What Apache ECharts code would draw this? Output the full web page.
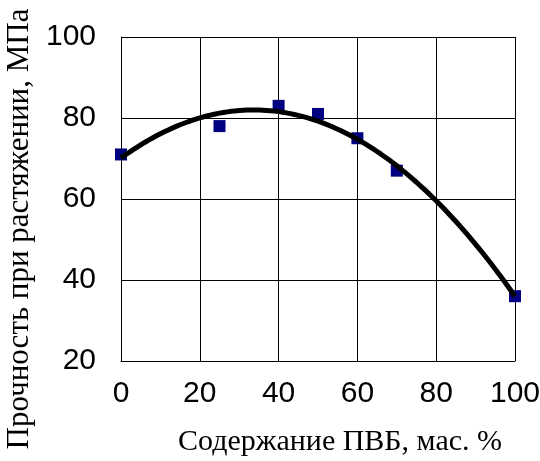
<!DOCTYPE html>
<html>
<head>
<meta charset="utf-8">
<script src="https://cdn.jsdelivr.net/npm/echarts@6/dist/echarts.min.js"></script>
<style>
  html, body { margin: 0; padding: 0; background: #fff; }
  #chart { width: 540px; height: 461px; }
</style>
</head>
<body>
<div id="chart"></div>
<script>
// PVB content, wt.% and measured tensile strength, MPa
const pvbContent = [0, 25, 40, 50, 60, 70, 100];
const tensileStrength = [71, 78, 83, 81, 75, 67, 36];
const xTicks = [0, 20, 40, 60, 80, 100];
const yTicks = [20, 40, 60, 80, 100];

// Second-order polynomial trend line fitted to the measurements (least squares)
function quadFit(xs, ys) {
  const S = [0, 0, 0, 0, 0];
  const T = [0, 0, 0];
  for (let i = 0; i < xs.length; i++) {
    let p = 1;
    for (let k = 0; k < 5; k++) { S[k] += p; if (k < 3) T[k] += p * ys[i]; p *= xs[i]; }
  }
  const A = [[S[0], S[1], S[2], T[0]], [S[1], S[2], S[3], T[1]], [S[2], S[3], S[4], T[2]]];
  for (let c = 0; c < 3; c++) {
    for (let r = c + 1; r < 3; r++) {
      const f = A[r][c] / A[c][c];
      for (let k = c; k < 4; k++) A[r][k] -= f * A[c][k];
    }
  }
  const coef = [0, 0, 0];
  for (let r = 2; r >= 0; r--) {
    let s = A[r][3];
    for (let k = r + 1; k < 3; k++) s -= A[r][k] * coef[k];
    coef[r] = s / A[r][r];
  }
  return coef;
}
const fit = quadFit(pvbContent, tensileStrength);
const trend = [];
for (let x = xTicks[0]; x <= xTicks[xTicks.length - 1]; x += 1) {
  trend.push([x, fit[0] + fit[1] * x + fit[2] * x * x]);
}

const chart = echarts.init(document.getElementById('chart'), null, { renderer: 'canvas' });
chart.setOption({
  animation: false,
  backgroundColor: '#ffffff',
  grid: { left: 121, right: 25, top: 37, bottom: 100, containLabel: false, outerBoundsMode: 'none' },
  xAxis: {
    type: 'value',
    min: xTicks[0], max: xTicks[xTicks.length - 1], interval: 20,
    name: 'Содержание ПВБ, мас. %',
    nameLocation: 'middle',
    nameGap: 66,
    nameTextStyle: { fontFamily: 'Liberation Serif', fontSize: 30, color: '#000', padding: [0, 0, 0, 44] },
    axisLine: { show: true, onZero: false, lineStyle: { color: '#000', width: 1 } },
    axisTick: { show: false },
    splitLine: { show: true, lineStyle: { color: '#000', width: 1 } },
    axisLabel: { fontFamily: 'Liberation Sans', fontSize: 30, color: '#000', margin: 18 }
  },
  yAxis: {
    type: 'value',
    min: yTicks[0], max: yTicks[yTicks.length - 1], interval: 20,
    name: 'Прочность при растяжении, МПа',
    nameLocation: 'middle',
    nameGap: 76,
    nameRotate: 90,
    nameTextStyle: { fontFamily: 'Liberation Serif', fontSize: 31, color: '#000', padding: [0, 60, 0, 0] },
    axisLine: { show: true, onZero: false, lineStyle: { color: '#000', width: 1 } },
    axisTick: { show: false },
    splitLine: { show: true, lineStyle: { color: '#000', width: 1 } },
    axisLabel: { fontFamily: 'Liberation Sans', fontSize: 30, color: '#000', margin: 25 }
  },
  series: [
    {
      type: 'scatter',
      data: pvbContent.map((x, i) => [x, tensileStrength[i]]),
      symbol: 'rect',
      symbolSize: 12,
      itemStyle: { color: '#000080', opacity: 1 },
      clip: false,
      z: 2
    },
    {
      type: 'line',
      data: trend,
      showSymbol: false,
      smooth: false,
      lineStyle: { color: '#000', width: 5 },
      clip: false,
      z: 3
    }
  ]
});
</script>
</body>
</html>
